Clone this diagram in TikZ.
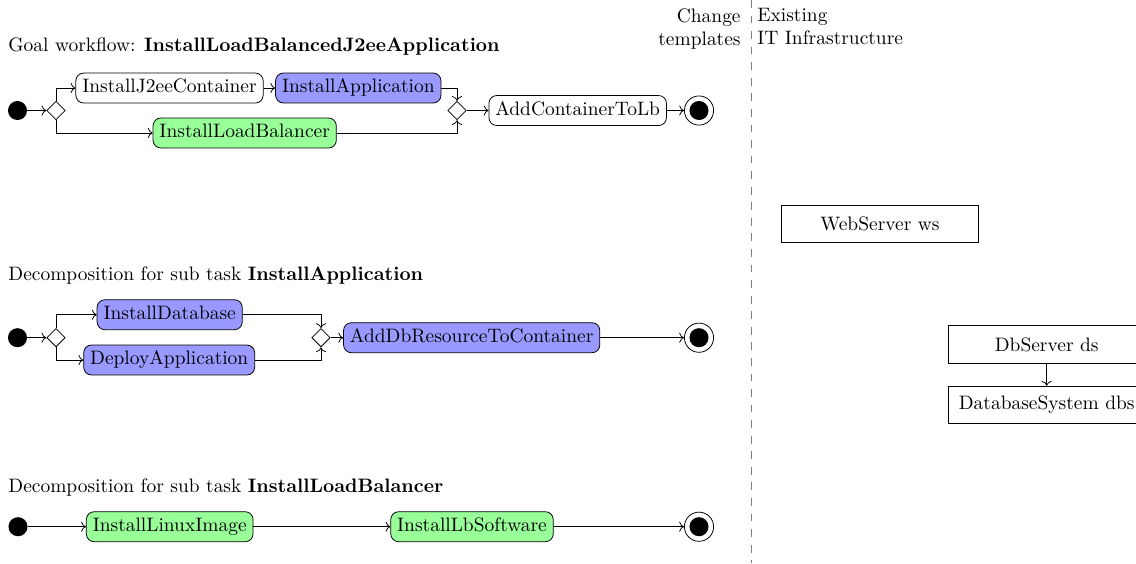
\documentclass[tikz,border=0pt]{standalone}
\usepackage{amsmath, amssymb}
\usetikzlibrary{shapes.geometric}
\usetikzlibrary{arrows.meta}

\tikzset{
	action/.style={draw, rounded corners=4pt, inner sep=3.3pt, text height=6.9pt, text depth=1.9pt},
	appaction/.style={action, fill=blue!40},
	lbaction/.style={action, fill=green!40},
	branch/.style={diamond, draw, inner sep=0pt, minimum size=9.5pt},
	startstate/.style={circle, fill=black, inner sep=0pt, minimum size=9.8pt},
	endstate/.style={circle, draw, inner sep=0pt, minimum size=15pt, path picture={\fill (path picture bounding box.center) circle (4.9pt);}},
	infra/.style={draw, minimum width=101pt, minimum height=19.4pt},
	heading/.style={anchor=west, inner sep=0pt}
}

\begin{document}
\begin{tikzpicture}
	\begin{scope}[x=0.514pt, y=-0.514pt]
		\useasboundingbox (0,0) rectangle (1136,563);
		
		% divider
		\coordinate (divtop) at (751.7,0);
		\coordinate (divbot) at (751.7,563);
		\draw[gray, dash pattern=on 4pt off 4pt] (divtop)--(divbot);
		\node[anchor=north east, align=right, inner sep=0pt] (change) at (741,8) {Change\\templates};
		\node[anchor=north west, align=left, inner sep=0pt] (existing) at (757,8) {Existing\\IT Infrastructure};
		
		% goal workflow
		\node[heading] (goal) at (8,47) {Goal workflow: \textbf{InstallLoadBalancedJ2eeApplication}};
		\node[startstate] (s1) at (17.5,110.5) {};
		\node[branch] (f1) at (56,110.5) {};
		\node[action] (j2ee) at (169.5,88) {InstallJ2eeContainer};
		\node[appaction] (app) at (358.3,88) {InstallApplication};
		\node[lbaction] (lb) at (244.7,133) {InstallLoadBalancer};
		\node[branch] (g1) at (457,110.5) {};
		\node[action] (addlb) at (577.7,110.5) {AddContainerToLb};
		\node[endstate] (e1) at (699,110.5) {};
		
		\draw[->] (s1)--(f1);
		\draw[->] (f1.north) |- (j2ee);
		\draw[->] (j2ee)--(app);
		\draw[->] (app) -| (g1.north);
		\draw[->] (f1.south) |- (lb);
		\draw[->] (lb) -| (g1.south);
		\draw[->] (g1)--(addlb);
		\draw[->] (addlb)--(e1);
		
		% sub task InstallApplication
		\node[heading] (subapp) at (8,276) {Decomposition for sub task \textbf{InstallApplication}};
		\node[startstate] (s2) at (17.5,337.7) {};
		\node[branch] (f2) at (56,337.7) {};
		\node[appaction] (db) at (169.7,314.7) {InstallDatabase};
		\node[appaction] (deploy) at (169.2,360) {DeployApplication};
		\node[branch] (g2) at (321,337.7) {};
		\node[appaction] (adddb) at (471.7,337.7) {AddDbResourceToContainer};
		\node[endstate] (e2) at (699,337.7) {};
		
		\draw[->] (s2)--(f2);
		\draw[->] (f2.north) |- (db);
		\draw[->] (f2.south) |- (deploy);
		\draw[->] (db) -| (g2.north);
		\draw[->] (deploy) -| (g2.south);
		\draw[->] (g2)--(adddb);
		\draw[->] (adddb)--(e2);
		
		% sub task InstallLoadBalancer
		\node[heading] (sublb) at (8,488) {Decomposition for sub task \textbf{InstallLoadBalancer}};
		\node[startstate] (s3) at (18,526.7) {};
		\node[lbaction] (linux) at (169.7,526.7) {InstallLinuxImage};
		\node[lbaction] (lbsw) at (472,526.7) {InstallLbSoftware};
		\node[endstate] (e3) at (699,526.7) {};
		
		\draw[->] (s3)--(linux);
		\draw[->] (linux)--(lbsw);
		\draw[->] (lbsw)--(e3);
		
		% existing infrastructure
		\node[infra] (ws) at (880,224) {WebServer ws};
		\node[infra] (ds) at (1046.7,344.7) {DbServer ds};
		\node[infra] (dbs) at (1046.7,405) {DatabaseSystem dbs};
		\draw[->] (ds)--(dbs);
		
	\end{scope}
\end{tikzpicture}
\end{document}
